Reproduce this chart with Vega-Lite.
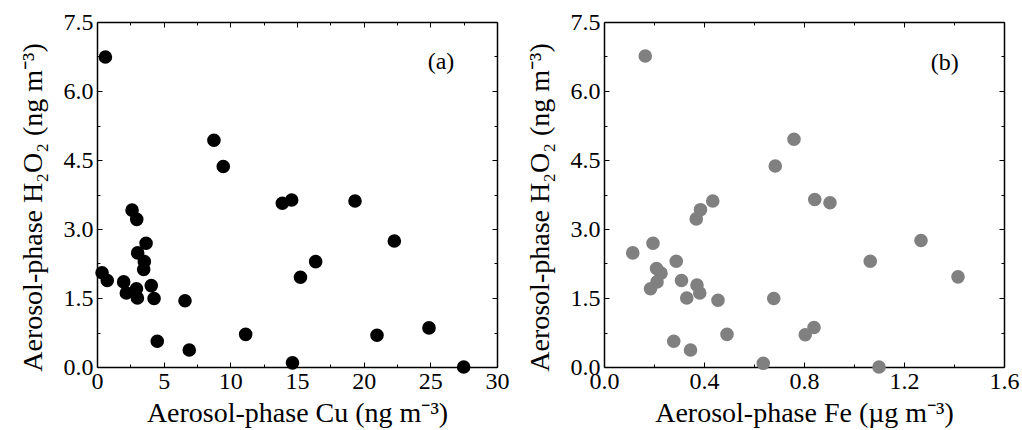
{
  "$schema": "https://vega.github.io/schema/vega-lite/v6.json",
  "background": "white",
  "padding": {"left": 19, "top": 10, "right": 5, "bottom": 5},
  "config": {
    "view": {"stroke": null},
    "font": "Liberation Serif",
    "axis": {
      "domainColor": "black", "domainWidth": 1.5, "tickColor": "black", "tickWidth": 1,
      "labelFont": "Liberation Serif", "labelFontSize": 24, "labelColor": "black",
      "titleFont": "Liberation Serif", "titleFontSize": 28, "titleFontWeight": "normal", "titleColor": "black",
      "grid": false, "labelOverlap": false, "labelFlush": false
    }
  },
  "datasets": {
    "cu": [
      {"cu": 0.63, "h2o2": 6.74}, {"cu": 8.77, "h2o2": 4.93}, {"cu": 9.47, "h2o2": 4.36},
      {"cu": 13.9, "h2o2": 3.56}, {"cu": 14.6, "h2o2": 3.63}, {"cu": 19.35, "h2o2": 3.61},
      {"cu": 22.3, "h2o2": 2.74}, {"cu": 16.4, "h2o2": 2.29}, {"cu": 15.26, "h2o2": 1.95},
      {"cu": 6.6, "h2o2": 1.44}, {"cu": 11.15, "h2o2": 0.71}, {"cu": 21.0, "h2o2": 0.69},
      {"cu": 24.9, "h2o2": 0.85}, {"cu": 27.5, "h2o2": 0.0}, {"cu": 14.66, "h2o2": 0.09},
      {"cu": 6.92, "h2o2": 0.37}, {"cu": 4.52, "h2o2": 0.56}, {"cu": 4.28, "h2o2": 1.49},
      {"cu": 4.07, "h2o2": 1.77}, {"cu": 2.63, "h2o2": 3.41}, {"cu": 2.98, "h2o2": 3.21},
      {"cu": 3.68, "h2o2": 2.69}, {"cu": 3.05, "h2o2": 2.48}, {"cu": 3.55, "h2o2": 2.29},
      {"cu": 3.5, "h2o2": 2.12}, {"cu": 0.38, "h2o2": 2.05}, {"cu": 0.77, "h2o2": 1.88},
      {"cu": 2.0, "h2o2": 1.85}, {"cu": 2.2, "h2o2": 1.61}, {"cu": 2.96, "h2o2": 1.7},
      {"cu": 3.03, "h2o2": 1.5}
    ],
    "fe": [
      {"fe": 0.165, "h2o2": 6.76}, {"fe": 0.76, "h2o2": 4.95}, {"fe": 0.685, "h2o2": 4.37},
      {"fe": 0.435, "h2o2": 3.61}, {"fe": 0.386, "h2o2": 3.42}, {"fe": 0.369, "h2o2": 3.22},
      {"fe": 0.843, "h2o2": 3.64}, {"fe": 0.904, "h2o2": 3.57}, {"fe": 0.196, "h2o2": 2.69},
      {"fe": 0.115, "h2o2": 2.48}, {"fe": 0.289, "h2o2": 2.3}, {"fe": 1.065, "h2o2": 2.3},
      {"fe": 1.268, "h2o2": 2.75}, {"fe": 1.416, "h2o2": 1.96}, {"fe": 0.21, "h2o2": 2.14},
      {"fe": 0.228, "h2o2": 2.04}, {"fe": 0.212, "h2o2": 1.85}, {"fe": 0.186, "h2o2": 1.7},
      {"fe": 0.31, "h2o2": 1.88}, {"fe": 0.372, "h2o2": 1.78}, {"fe": 0.383, "h2o2": 1.61},
      {"fe": 0.331, "h2o2": 1.5}, {"fe": 0.456, "h2o2": 1.45}, {"fe": 0.679, "h2o2": 1.49},
      {"fe": 0.492, "h2o2": 0.71}, {"fe": 0.805, "h2o2": 0.7}, {"fe": 0.84, "h2o2": 0.86},
      {"fe": 0.279, "h2o2": 0.56}, {"fe": 0.346, "h2o2": 0.37}, {"fe": 0.637, "h2o2": 0.08},
      {"fe": 1.1, "h2o2": 0.0}
    ],
    "labA": [{"lab": "(a)"}],
    "labB": [{"lab": "(b)"}]
  },
  "spacing": 107,
  "bounds": "flush",
  "hconcat": [
    {
      "width": 400, "height": 345,
      "layer": [
        {
          "data": {"name": "cu"},
          "mark": {"type": "point", "filled": true, "size": 185, "color": "black", "opacity": 1},
          "encoding": {
            "x": {"field": "cu", "type": "quantitative", "scale": {"domain": [0, 30], "nice": false, "zero": false},
              "axis": {"orient": "bottom", "title": "Aerosol-phase Cu (ng m⁻³)",
                "values": [0, 2.5, 5, 7.5, 10, 12.5, 15, 17.5, 20, 22.5, 25, 27.5, 30],
                "labelExpr": "datum.value % 5 == 0 ? datum.label : ''",
                "tickSize": {"condition": {"test": "datum.value % 5 == 0", "value": -5}, "value": -3},
                "labelPadding": 7, "titlePadding": 4}},
            "y": {"field": "h2o2", "type": "quantitative", "scale": {"domain": [0, 7.5], "nice": false, "zero": false},
              "axis": {"orient": "left", "title": "Aerosol-phase H₂O₂ (ng m⁻³)", "format": ".1f",
                "values": [0, 0.75, 1.5, 2.25, 3, 3.75, 4.5, 5.25, 6, 6.75, 7.5],
                "labelExpr": "abs(datum.value/1.5 - round(datum.value/1.5)) < 0.001 ? datum.label : ''",
                "tickSize": {"condition": {"test": "abs(datum.value/1.5 - round(datum.value/1.5)) < 0.001", "value": -5}, "value": -3},
                "labelPadding": 9, "titlePadding": 16, "titleY": 185}}
          }
        },
        {
          "data": {"name": "cu"},
          "mark": {"type": "point", "opacity": 0},
          "encoding": {
            "x": {"field": "cu", "type": "quantitative", "scale": {"domain": [0, 30], "nice": false, "zero": false},
              "axis": {"orient": "top", "title": null, "labels": false,
                "values": [0, 2.5, 5, 7.5, 10, 12.5, 15, 17.5, 20, 22.5, 25, 27.5, 30],
                "tickSize": {"condition": {"test": "datum.value % 5 == 0", "value": -5}, "value": -3}}},
            "y": {"field": "h2o2", "type": "quantitative", "scale": {"domain": [0, 7.5], "nice": false, "zero": false},
              "axis": {"orient": "right", "title": null, "labels": false,
                "values": [0, 0.75, 1.5, 2.25, 3, 3.75, 4.5, 5.25, 6, 6.75, 7.5],
                "tickSize": {"condition": {"test": "abs(datum.value/1.5 - round(datum.value/1.5)) < 0.001", "value": -5}, "value": -3}}}
          }
        },
        {
          "data": {"name": "labA"},
          "mark": {"type": "text", "font": "Liberation Serif", "fontSize": 24, "color": "black"},
          "encoding": {
            "x": {"datum": 25.8, "type": "quantitative", "axis": null},
            "y": {"datum": 6.63, "type": "quantitative", "axis": null},
            "text": {"field": "lab"}
          }
        }
      ],
      "resolve": {"axis": {"x": "independent", "y": "independent"}}
    },
    {
      "width": 400, "height": 345,
      "layer": [
        {
          "data": {"name": "fe"},
          "mark": {"type": "point", "filled": true, "size": 185, "color": "#808080", "opacity": 1},
          "encoding": {
            "x": {"field": "fe", "type": "quantitative", "scale": {"domain": [0, 1.6], "nice": false, "zero": false},
              "axis": {"orient": "bottom", "title": "Aerosol-phase Fe (µg m⁻³)", "format": ".1f",
                "values": [0, 0.2, 0.4, 0.6, 0.8, 1.0, 1.2, 1.4, 1.6],
                "labelExpr": "abs(datum.value/0.4 - round(datum.value/0.4)) < 0.001 ? datum.label : ''",
                "tickSize": {"condition": {"test": "abs(datum.value/0.4 - round(datum.value/0.4)) < 0.001", "value": -5}, "value": -3},
                "labelPadding": 7, "titlePadding": 4}},
            "y": {"field": "h2o2", "type": "quantitative", "scale": {"domain": [0, 7.5], "nice": false, "zero": false},
              "axis": {"orient": "left", "title": "Aerosol-phase H₂O₂ (ng m⁻³)", "format": ".1f",
                "values": [0, 0.75, 1.5, 2.25, 3, 3.75, 4.5, 5.25, 6, 6.75, 7.5],
                "labelExpr": "abs(datum.value/1.5 - round(datum.value/1.5)) < 0.001 ? datum.label : ''",
                "tickSize": {"condition": {"test": "abs(datum.value/1.5 - round(datum.value/1.5)) < 0.001", "value": -5}, "value": -3},
                "labelPadding": 9, "titlePadding": 16, "titleY": 185}}
          }
        },
        {
          "data": {"name": "fe"},
          "mark": {"type": "point", "opacity": 0},
          "encoding": {
            "x": {"field": "fe", "type": "quantitative", "scale": {"domain": [0, 1.6], "nice": false, "zero": false},
              "axis": {"orient": "top", "title": null, "labels": false,
                "values": [0, 0.2, 0.4, 0.6, 0.8, 1.0, 1.2, 1.4, 1.6],
                "tickSize": {"condition": {"test": "abs(datum.value/0.4 - round(datum.value/0.4)) < 0.001", "value": -5}, "value": -3}}},
            "y": {"field": "h2o2", "type": "quantitative", "scale": {"domain": [0, 7.5], "nice": false, "zero": false},
              "axis": {"orient": "right", "title": null, "labels": false,
                "values": [0, 0.75, 1.5, 2.25, 3, 3.75, 4.5, 5.25, 6, 6.75, 7.5],
                "tickSize": {"condition": {"test": "abs(datum.value/1.5 - round(datum.value/1.5)) < 0.001", "value": -5}, "value": -3}}}
          }
        },
        {
          "data": {"name": "labB"},
          "mark": {"type": "text", "font": "Liberation Serif", "fontSize": 24, "color": "black"},
          "encoding": {
            "x": {"datum": 1.363, "type": "quantitative", "axis": null},
            "y": {"datum": 6.61, "type": "quantitative", "axis": null},
            "text": {"field": "lab"}
          }
        }
      ],
      "resolve": {"axis": {"x": "independent", "y": "independent"}}
    }
  ]
}
